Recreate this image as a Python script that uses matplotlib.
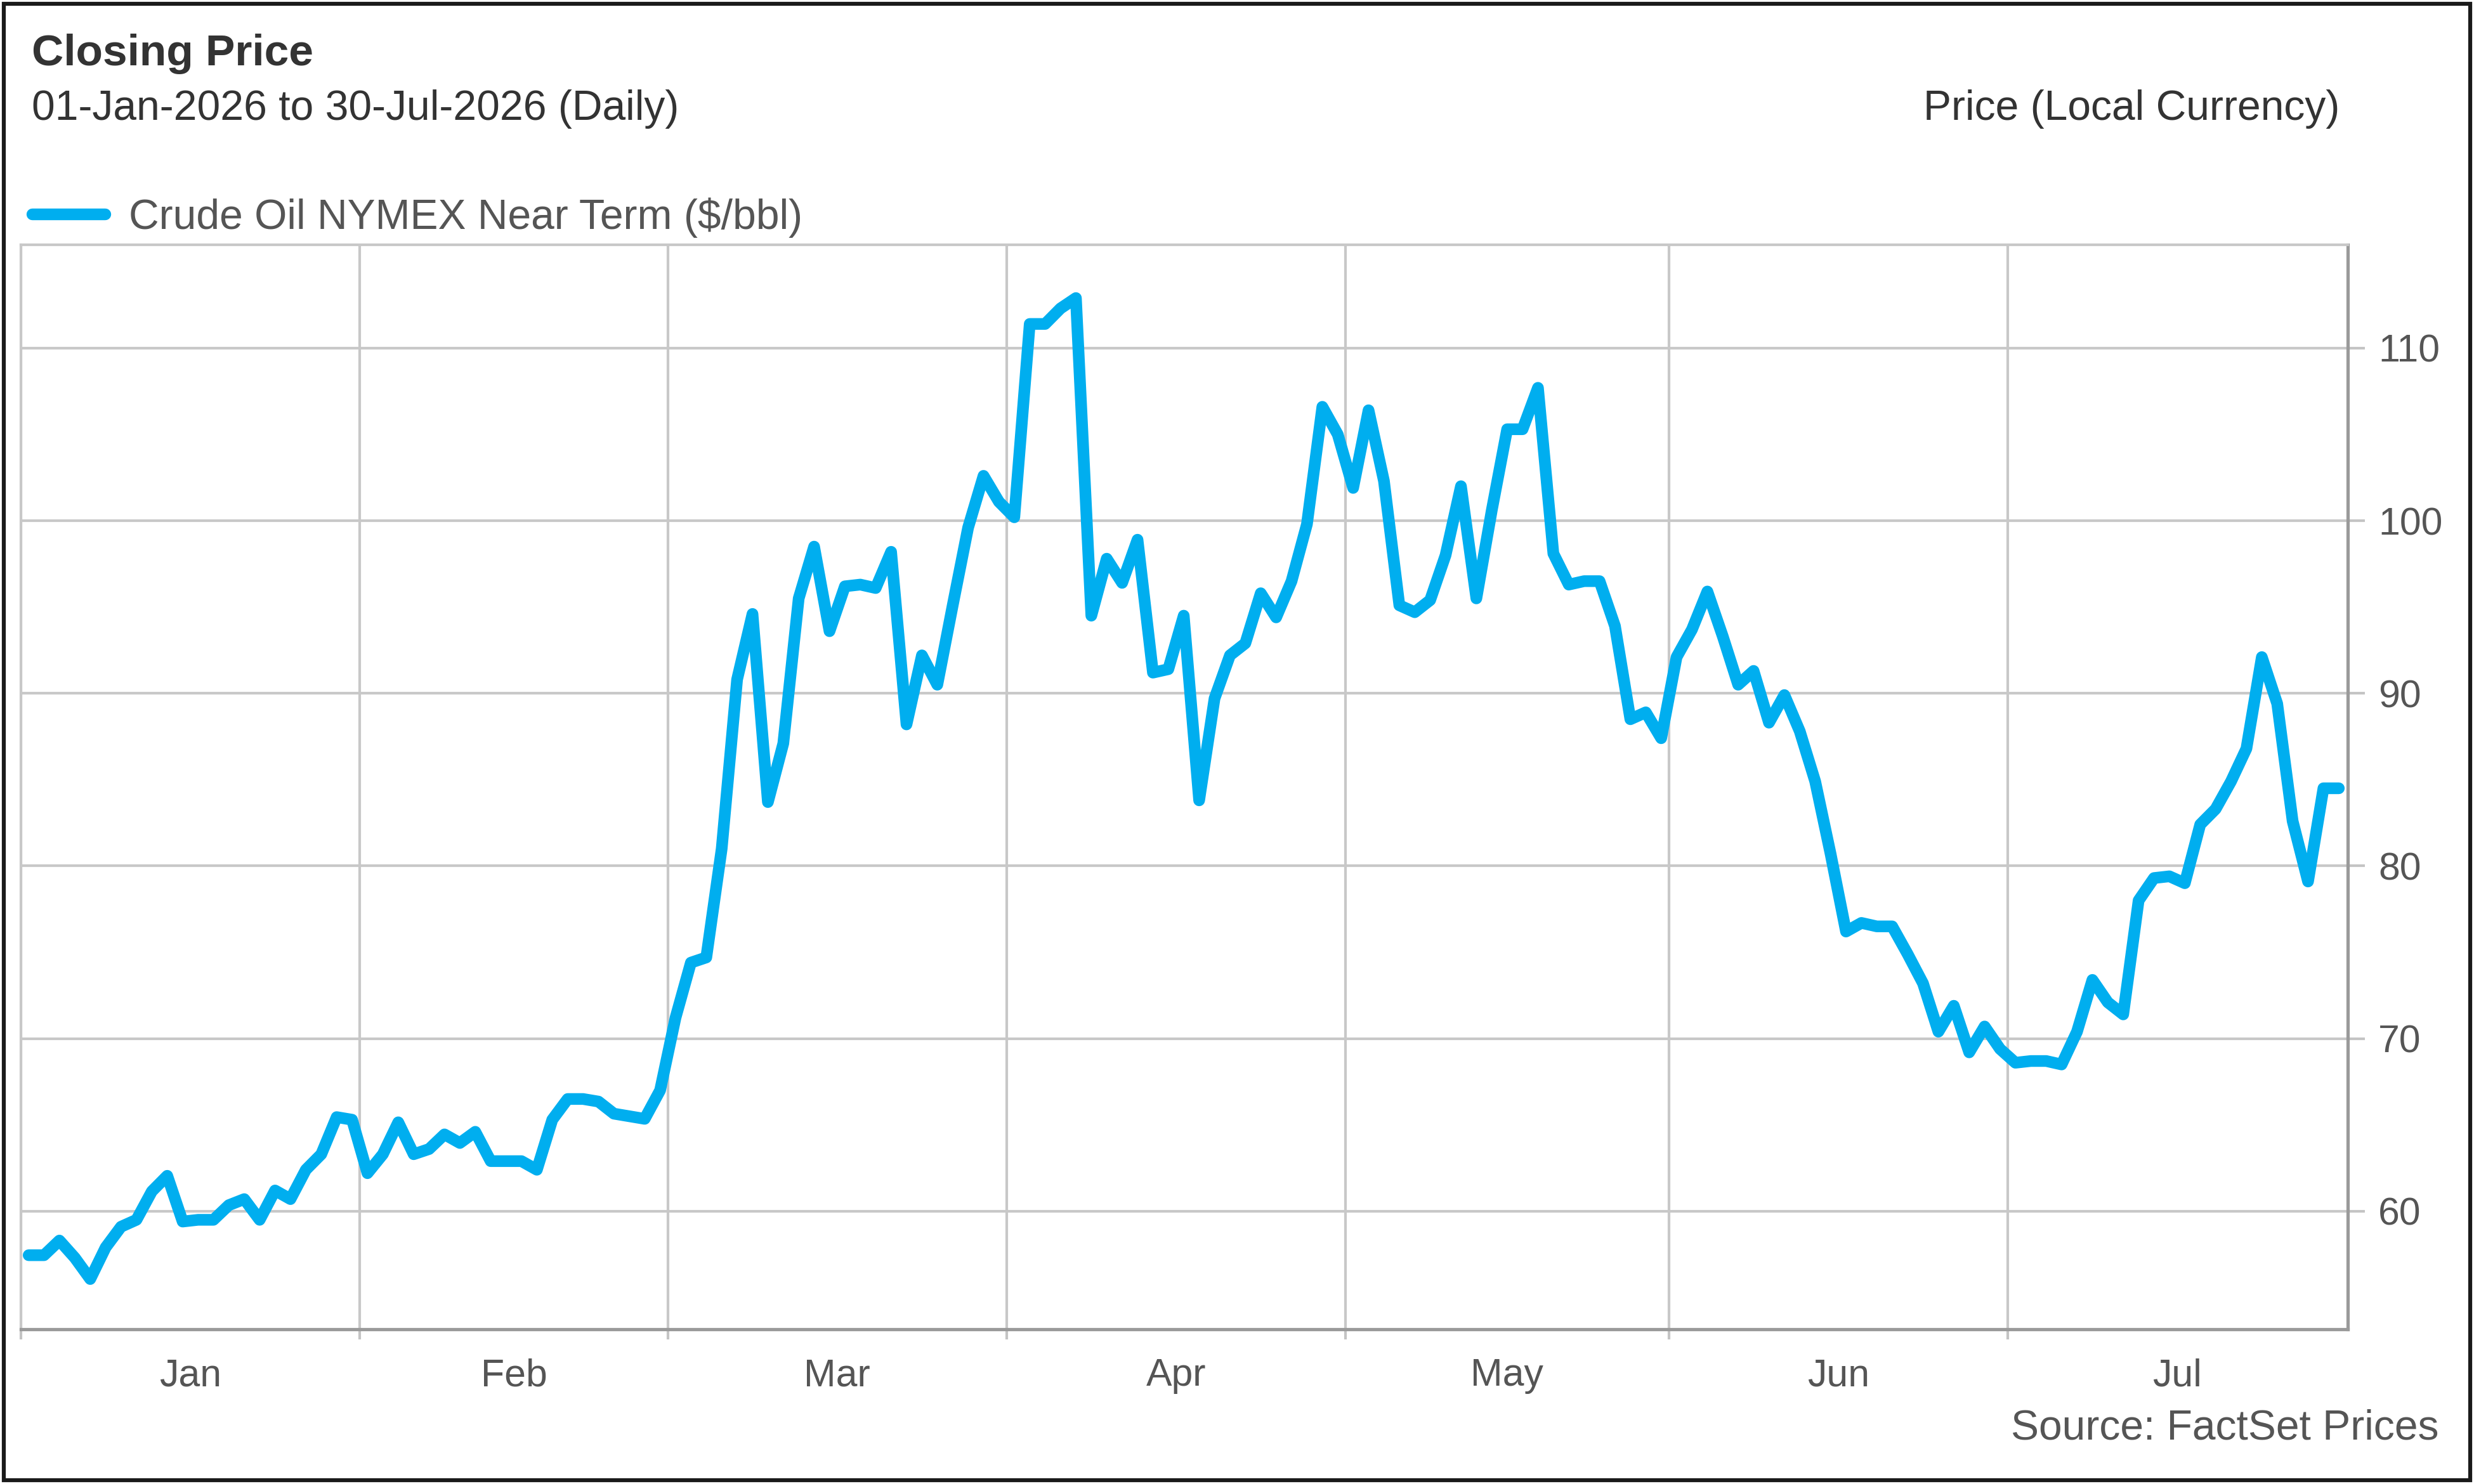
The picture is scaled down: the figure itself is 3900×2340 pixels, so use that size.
import numpy as np
import pandas as pd
import matplotlib
matplotlib.use("Agg")
import matplotlib.pyplot as plt
from matplotlib.patches import Rectangle

plt.rcParams['font.family'] = ['Liberation Sans', 'DejaVu Sans']

# daily closes, one per weekday, 01-Jan-2026 .. 30-Jul-2026
jan = [57.45, 57.45, 58.3, 57.3, 56.07, 57.9, 59.1, 59.5, 61.15, 62.05, 59.4,
       59.5, 59.5, 60.35, 60.7, 59.5, 61.2, 60.7, 62.4, 63.3, 65.45, 65.3]
feb = [62.2, 63.3, 65.15, 63.3, 63.6, 64.45, 63.95, 64.6, 62.9, 62.9,
       62.9, 62.4, 65.3, 66.5, 66.5, 66.35, 65.65, 65.5, 65.35, 67.0]
mar = [71.2, 74.4, 74.7, 81.0, 90.8, 94.6, 83.7, 87.1, 95.5, 98.5, 93.6,
       96.2, 96.3, 96.1, 98.2, 88.2, 92.2, 90.5, 95.1, 99.6, 102.6, 101.1]
apr = [100.2, 111.4, 111.4, 112.3, 112.9, 94.5, 97.8, 96.4, 98.9, 91.2, 91.4,
       94.5, 83.8, 89.7, 92.2, 92.9, 95.8, 94.4, 96.5, 99.8, 106.6, 105.0]
may = [101.9, 106.4, 102.3, 95.1, 94.7, 95.4, 98.0, 102.0, 95.5, 100.6, 105.3,
       105.3, 107.7, 98.1, 96.3, 96.5, 96.5, 93.9, 88.5, 88.9, 87.4]
jun = [92.1, 93.7, 95.9, 93.3, 90.5, 91.3, 88.3, 89.9, 87.8, 84.9, 80.7,
       76.2, 76.7, 76.5, 76.5, 74.9, 73.2, 70.4, 71.9, 69.2, 70.7, 69.4]
jul = [68.6, 68.7, 68.7, 68.5, 70.4, 73.4, 72.1, 71.4, 78.0, 79.3, 79.4,
       79.0, 82.4, 83.3, 84.9, 86.8, 92.1, 89.4, 82.6, 79.1, 84.5, 84.5]

month_names = ['Jan', 'Feb', 'Mar', 'Apr', 'May', 'Jun', 'Jul']
prices = jan + feb + mar + apr + may + jun + jul
dates = pd.bdate_range('2026-01-01', '2026-07-30')
x = np.arange(len(prices))

# month boundaries sit half a day before the first trading day of each month
starts = [0] + [i for i in range(1, len(dates)) if dates[i].month != dates[i - 1].month]
bounds = [s - 0.5 for s in starts] + [len(dates) - 0.5]
centers = [(bounds[i] + bounds[i + 1]) / 2 for i in range(len(starts))]

fig = plt.figure(figsize=(15.6, 9.36), dpi=250)
ax = fig.add_axes([33 / 3900, 1 - 2096 / 2340, (3701 - 33) / 3900, (2096 - 385.6) / 2340])

ax.plot(x, prices, color='#00AEEF', lw=5.3, solid_joinstyle='round',
        solid_capstyle='round', label='Crude Oil NYMEX Near Term ($/bbl)', zorder=3)

ax.set_xlim(-0.5, 150.58)
ax.set_ylim(53.16, 116.0)

ax.yaxis.tick_right()
ax.set_yticks(range(60, 111, 10))
ax.tick_params(axis='y', length=7.8, width=1.2, color='#c4c4c4', pad=6,
               labelsize=17.5, labelcolor='#555555')

ax.set_xticks(bounds[:-1])
ax.set_xticklabels([])
ax.set_xticks(centers, minor=True)
ax.set_xticklabels(month_names, minor=True)
ax.tick_params(axis='x', which='major', length=4.6, width=1.2, color='#c4c4c4')
ax.tick_params(axis='x', which='minor', length=0, pad=13, labelsize=17.5,
               labelcolor='#555555')

ax.grid(True, which='major', color='#c8c8c8', lw=1.2)
ax.set_axisbelow(True)
for side in ['top', 'left']:
    ax.spines[side].set_color('#c8c8c8')
    ax.spines[side].set_linewidth(1.2)
for side in ['right', 'bottom']:
    ax.spines[side].set_color('#9a9a9a')
    ax.spines[side].set_linewidth(1.5)

ax.legend(loc='center left', bbox_to_anchor=(51 / 3900, 1 - 343 / 2340),
          bbox_transform=fig.transFigure, frameon=False, handlelength=1.75,
          handletextpad=0.55, borderpad=0, borderaxespad=0, fontsize=19,
          labelcolor='#555555')

fig.text(50 / 3900, 1 - 85 / 2340, 'Closing Price', fontsize=20, fontweight='bold',
         color='#333333', va='center', ha='left')
fig.text(50 / 3900, 1 - 172 / 2340, '01-Jan-2026 to 30-Jul-2026 (Daily)', fontsize=19,
         color='#333333', va='center', ha='left')
fig.text(3688 / 3900, 1 - 172 / 2340, 'Price (Local Currency)', fontsize=19,
         color='#333333', va='center', ha='right')
fig.text(3845 / 3900, 1 - 2253 / 2340, 'Source: FactSet Prices', fontsize=19,
         color='#555555', va='center', ha='right')

fig.add_artist(Rectangle((0.0015, 0.0025), 0.997, 0.995, transform=fig.transFigure,
                         fill=False, ec='#1a1a1a', lw=1.8))

fig.savefig('out.png', dpi=250)
